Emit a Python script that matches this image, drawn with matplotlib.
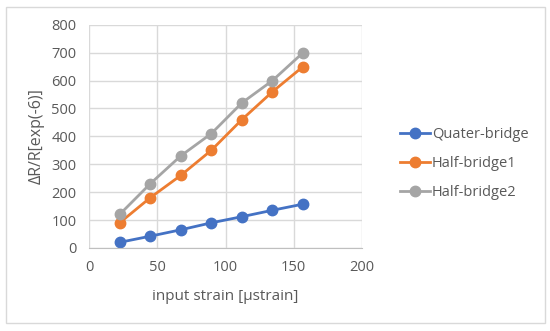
import matplotlib.pyplot as plt
from matplotlib.patches import Rectangle

strain = [22.4, 44.8, 67.2, 89.6, 112, 134.4, 156.8]
quater = [20, 42, 65, 90, 112, 135, 157]
half1 = [90, 180, 260, 350, 460, 560, 650]
half2 = [120, 230, 330, 410, 520, 600, 700]

plt.rcParams['font.family'] = ['Open Sans', 'DejaVu Sans']

fig = plt.figure(figsize=(5.5, 3.31), dpi=100)
fig.patches.append(Rectangle((0.01, 0.025), 0.98, 0.955, transform=fig.transFigure,
                             fill=False, edgecolor='#d9d9d9', linewidth=1))
ax = fig.add_axes([0.162, 0.251, 0.496, 0.674])

ax.plot(strain, quater, color='#4472C4', marker='o', markersize=7.5, linewidth=2, label='Quater-bridge')
ax.plot(strain, half1, color='#ED7D31', marker='o', markersize=7.5, linewidth=2, label='Half-bridge1')
ax.plot(strain, half2, color='#A5A5A5', marker='o', markersize=7.5, linewidth=2, label='Half-bridge2')

ax.set_xlim(0, 200)
ax.set_ylim(0, 800)
ax.set_xticks(range(0, 201, 50))
ax.set_yticks(range(0, 801, 100))
ax.grid(True, color='#d9d9d9', linewidth=1)
ax.set_axisbelow(True)
for s in ['top', 'right', 'left']:
    ax.spines[s].set_visible(False)
ax.spines['bottom'].set_color('#bfbfbf')
ax.tick_params(length=0, labelsize=10.5, colors='#595959', pad=9)

ax.set_xlabel('input strain [µstrain]', fontsize=11, color='#595959', labelpad=10)
ax.set_ylabel('ΔR/R[exp(-6)]', fontsize=11.5, color='#595959', labelpad=5)

fig.legend(loc='center left', bbox_to_anchor=(0.703, 0.505), frameon=False, fontsize=10.5,
           labelcolor='#595959', handlelength=2.1, handletextpad=0.1, labelspacing=0.95)

fig.savefig('out.png', dpi=100)
